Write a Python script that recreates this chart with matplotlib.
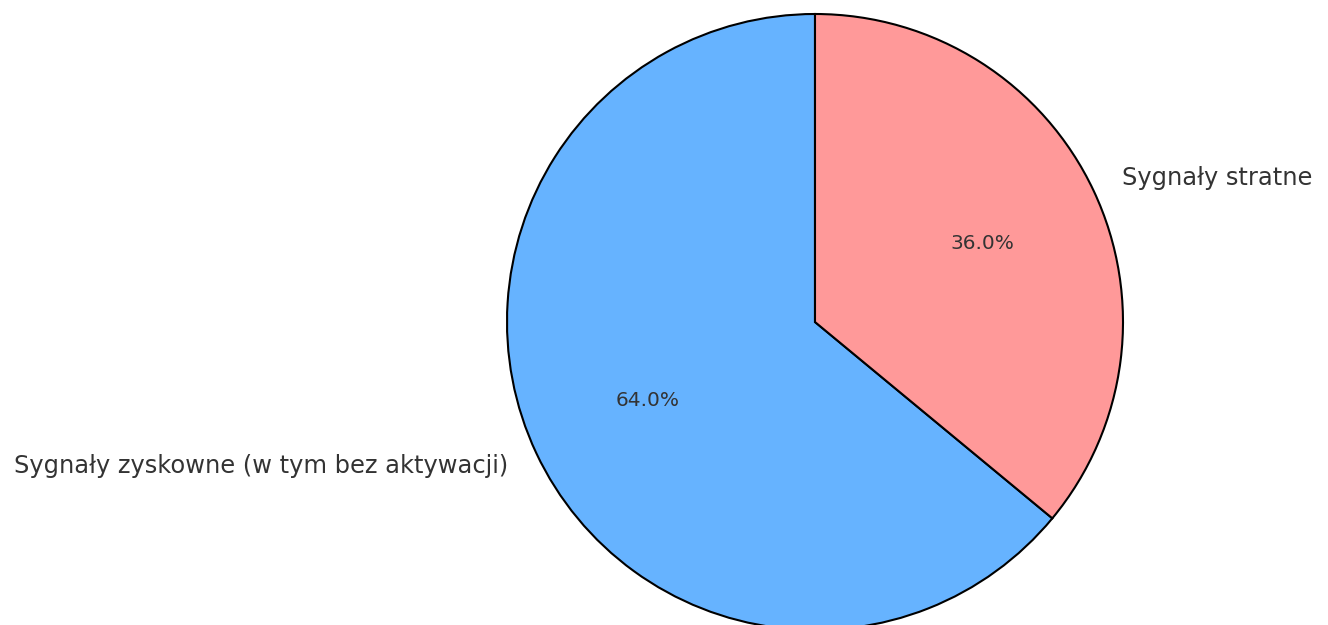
import matplotlib
matplotlib.use("Agg")
import matplotlib.pyplot as plt

labels = ['Sygnały zyskowne (w tym bez aktywacji)', 'Sygnały stratne']
sizes = [64.0, 36.0]
colors = ['#66b3ff', '#ff9999']

fig = plt.figure(figsize=(13.28, 6.25), dpi=100)
# pie centre ~ (815, 322) px, radius ~308 px
ax = fig.add_axes([(815 - 308) / 1328, (625 - 322 - 308) / 625, 616 / 1328, 616 / 625])

wedges, texts, autotexts = ax.pie(sizes, labels=labels, colors=colors, autopct='%1.1f%%',
                                  startangle=90, wedgeprops={'edgecolor': 'black', 'linewidth': 1.5},
                                  textprops={'fontsize': 17.4, 'color': '#333333'})
for t in autotexts:
    t.set_fontsize(14.5)
for w in wedges:
    w.set_clip_on(False)
ax.set_xlim(-1, 1)
ax.set_ylim(-1, 1)
ax.set_aspect('equal')
ax.axis('off')

fig.savefig('out.png', dpi=100)
